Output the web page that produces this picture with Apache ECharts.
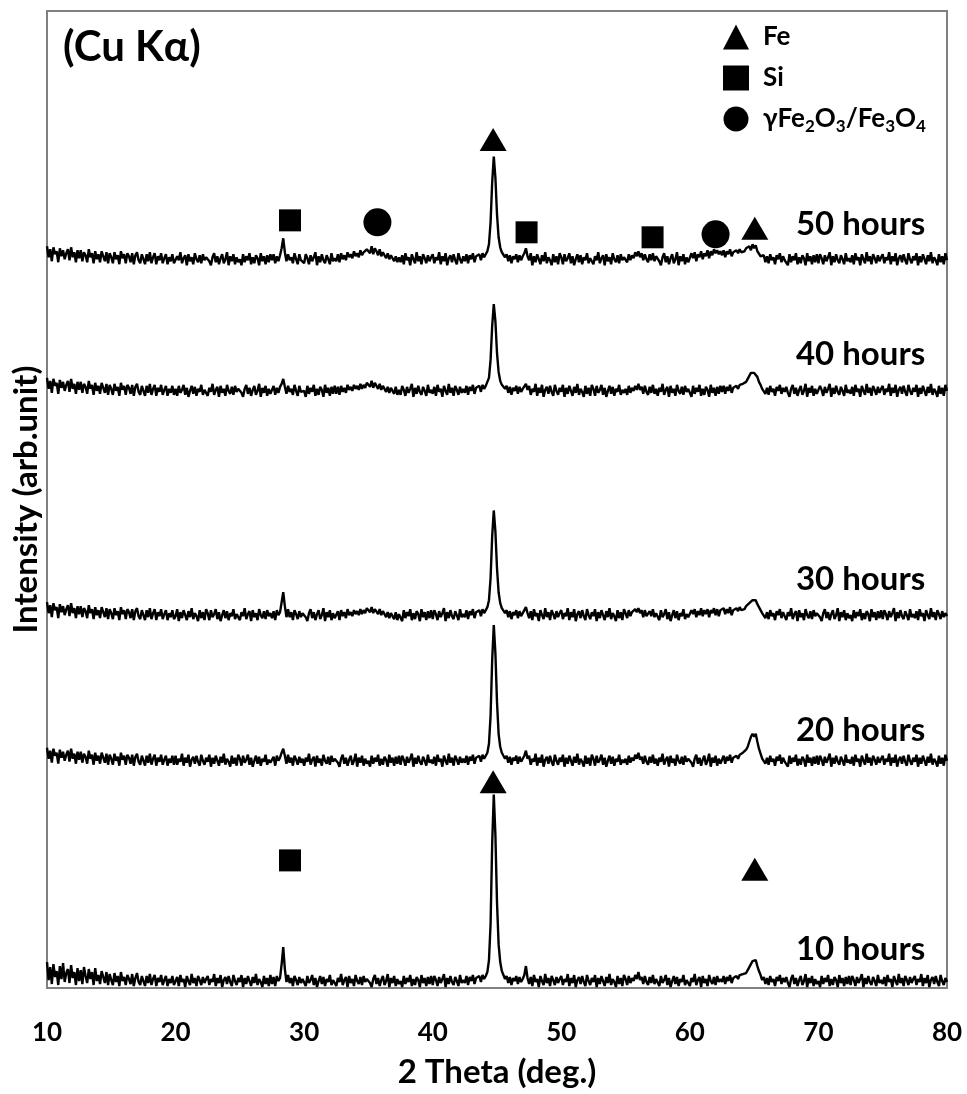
<!DOCTYPE html>
<html>
<head>
<meta charset="utf-8">
<script src="https://cdn.jsdelivr.net/npm/echarts@6/dist/echarts.min.js"></script>
<style>
html, body { margin: 0; padding: 0; background: #fff; }
#chart { width: 967px; height: 1094px; }
</style>
</head>
<body>
<div id="chart"></div>
<script>
// 2 theta grid of the scans
var angleStart = 10;
var angleStep = 0.125;

// milling time of each scan, bottom to top
var hours = ['10 hours', '20 hours', '30 hours', '40 hours', '50 hours'];
// vertical shift of each scan (arb. unit)
var offsets = [0, 221, 367, 592, 724];
// height of the "xx hours" text of each scan
var labelHeights = [39, 258, 410, 636, 766];

// intensity above the offset, one value every 0.125 deg from 10 to 80 (2.5 deg per row)
var xrd10 = [
	26,8,21,4,24,11,17,3,22,9,25,6,15,19,5,23,10,16,3,20,
	7,18,4,21,12,5,19,9,16,3,20,7,13,4,17,11,5,16,3,14,
	8,3,15,6,12,2,16,7,11,3,13,9,4,14,2,10,15,6,3,12,
	7,2,12,5,14,3,9,13,2,10,6,13,3,8,12,2,9,5,12,3,
	4,11,2,13,6,9,1,12,7,3,14,5,10,2,12,8,3,11,5,9,
	12,3,9,6,14,2,10,5,13,1,8,11,4,12,6,2,13,7,3,10,
	6,13,1,10,4,12,7,2,11,5,14,3,9,6,1,12,4,10,2,13,
	4,11,2,12,7,10,24,41,19,6,13,5,10,2,12,8,3,11,5,9,
	9,2,12,5,8,13,3,10,1,7,12,4,11,2,9,6,13,3,8,5,
	2,10,6,14,3,8,11,1,12,5,9,2,13,7,4,11,3,12,6,9,
	11,5,1,9,13,4,10,2,8,12,3,7,14,1,10,5,12,2,9,4,
	7,1,12,4,10,6,13,2,9,3,11,8,1,13,5,10,2,11,4,12,
	3,12,8,2,11,5,9,14,1,10,4,12,6,3,11,7,2,13,5,8,
	5,12,3,11,7,13,4,10,8,12,6,13,9,12,16,28,64,145,194,154,
	86,44,26,17,13,9,12,5,11,3,10,7,12,4,11,6,9,13,22,10,
	4,11,2,13,6,9,1,12,7,3,14,5,10,2,12,8,3,11,5,9,
	12,3,9,6,14,2,10,5,13,1,8,11,4,12,6,2,13,7,3,10,
	6,13,1,10,4,12,7,2,11,5,14,3,9,6,1,12,4,10,2,13,
	9,3,12,5,10,7,13,9,16,8,11,4,12,6,3,11,5,13,4,9,
	9,2,12,5,8,13,3,10,1,7,12,4,11,2,9,6,13,3,8,5,
	2,10,6,14,3,8,11,1,12,5,9,2,13,7,4,11,3,12,6,9,
	6,12,4,11,7,13,5,10,8,12,9,13,11,14,12,15,17,21,24,27,
	25,28,22,17,13,8,11,4,10,3,12,6,9,2,11,7,13,4,10,6,
	11,5,1,9,13,4,10,2,8,12,3,7,14,1,10,5,12,2,9,4,
	7,1,12,4,10,6,13,2,9,3,11,8,1,13,5,10,2,11,4,12,
	3,12,8,2,11,5,9,14,1,10,4,12,6,3,11,7,2,13,5,8,
	4,11,2,13,6,9,1,12,7,3,14,5,10,2,12,8,3,11,5,9,
	12,3,9,6,14,2,10,5,13,1,8,11,4,12,6,2,13,7,3,10,
	6
];
var xrd20 = [
	20,9,17,5,19,12,15,4,18,10,16,7,13,17,6,19,9,14,4,16,
	8,16,5,14,11,4,17,9,13,3,15,7,12,4,15,10,5,14,3,13,
	9,3,14,7,11,2,15,8,12,3,13,10,4,13,2,11,14,6,3,12,
	7,2,12,5,14,3,9,13,2,10,6,13,3,8,12,2,9,5,12,3,
	12,3,9,6,14,2,10,5,13,1,8,11,4,12,6,2,13,7,3,10,
	6,13,1,10,4,12,7,2,11,5,14,3,9,6,1,12,4,10,2,13,
	9,2,12,5,8,13,3,10,1,7,12,4,11,2,9,6,13,3,8,5,
	4,11,2,12,7,10,15,19,12,4,13,5,10,2,12,8,3,11,5,9,
	2,10,6,14,3,8,11,1,12,5,9,2,13,7,4,11,3,12,6,9,
	11,5,1,9,13,4,10,2,8,12,3,7,14,1,10,5,12,2,9,4,
	7,1,12,4,10,6,13,2,9,3,11,8,1,13,5,10,2,11,4,12,
	3,12,8,2,11,5,9,14,1,10,4,12,6,3,11,7,2,13,5,8,
	4,11,2,13,6,9,1,12,7,3,14,5,10,2,12,8,3,11,5,9,
	5,12,3,11,7,13,4,10,8,12,6,13,9,12,15,24,52,108,143,115,
	66,34,21,15,12,9,12,5,11,3,10,7,12,4,11,6,9,12,17,9,
	12,3,9,6,14,2,10,5,13,1,8,11,4,12,6,2,13,7,3,10,
	6,13,1,10,4,12,7,2,11,5,14,3,9,6,1,12,4,10,2,13,
	9,2,12,5,8,13,3,10,1,7,12,4,11,2,9,6,13,3,8,5,
	9,3,12,5,10,7,13,9,15,8,11,4,12,6,3,11,5,13,4,9,
	2,10,6,14,3,8,11,1,12,5,9,2,13,7,4,11,3,12,6,9,
	11,5,1,9,13,4,10,2,8,12,3,7,14,1,10,5,12,2,9,4,
	6,12,4,11,7,13,5,10,8,12,9,13,11,15,14,18,21,26,31,34,
	31,34,26,19,14,9,11,4,10,3,12,6,9,2,11,7,13,4,10,6,
	7,1,12,4,10,6,13,2,9,3,11,8,1,13,5,10,2,11,4,12,
	3,12,8,2,11,5,9,14,1,10,4,12,6,3,11,7,2,13,5,8,
	4,11,2,13,6,9,1,12,7,3,14,5,10,2,12,8,3,11,5,9,
	12,3,9,6,14,2,10,5,13,1,8,11,4,12,6,2,13,7,3,10,
	6,13,1,10,4,12,7,2,11,5,14,3,9,6,1,12,4,10,2,13,
	7
];
var xrd30 = [
	20,9,17,5,19,12,15,4,18,10,16,7,13,17,6,19,9,14,4,16,
	8,16,5,14,11,4,17,9,13,3,15,7,12,4,15,10,5,14,3,13,
	9,3,14,7,11,2,15,8,12,3,13,10,4,13,2,11,14,6,3,12,
	7,2,12,5,14,3,9,13,2,10,6,13,3,8,12,2,9,5,12,3,
	6,13,1,10,4,12,7,2,11,5,14,3,9,6,1,12,4,10,2,13,
	9,2,12,5,8,13,3,10,1,7,12,4,11,2,9,6,13,3,8,5,
	2,10,6,14,3,8,11,1,12,5,9,2,13,7,4,11,3,12,6,9,
	4,11,2,12,7,10,20,30,16,5,13,5,10,2,12,8,3,11,5,9,
	11,5,1,9,13,4,10,2,8,12,3,7,14,1,10,5,12,2,9,4,
	3,11,2,12,6,10,4,13,7,10,6,12,8,11,7,13,8,12,9,14,
	14,10,15,9,13,12,8,13,7,11,12,5,10,4,9,8,3,10,2,8,
	7,1,12,4,10,6,13,2,9,3,11,8,1,13,5,10,2,11,4,12,
	3,12,8,2,11,5,9,14,1,10,4,12,6,3,11,7,2,13,5,8,
	5,12,3,11,7,13,4,10,8,12,6,13,9,12,15,22,44,86,112,91,
	54,30,19,14,12,9,12,5,11,3,10,7,12,4,11,6,9,11,15,9,
	4,11,2,13,6,9,1,12,7,3,14,5,10,2,12,8,3,11,5,9,
	12,3,9,6,14,2,10,5,13,1,8,11,4,12,6,2,13,7,3,10,
	6,13,1,10,4,12,7,2,11,5,14,3,9,6,1,12,4,10,2,13,
	9,4,12,6,10,8,13,10,14,9,12,5,12,6,4,11,6,13,5,9,
	9,2,12,5,8,13,3,10,1,7,12,4,11,2,9,6,13,3,8,5,
	6,12,8,13,5,11,7,14,6,12,8,13,5,12,9,14,7,13,6,12,
	10,14,8,13,9,15,7,12,10,14,11,15,12,14,13,16,17,19,21,22,
	21,22,18,15,12,9,11,4,10,3,12,6,9,2,11,7,13,4,10,6,
	2,10,6,14,3,8,11,1,12,5,9,2,13,7,4,11,3,12,6,9,
	11,5,1,9,13,4,10,2,8,12,3,7,14,1,10,5,12,2,9,4,
	7,1,12,4,10,6,13,2,9,3,11,8,1,13,5,10,2,11,4,12,
	3,12,8,2,11,5,9,14,1,10,4,12,6,3,11,7,2,13,5,8,
	4,11,2,13,6,9,1,12,7,3,14,5,10,2,12,8,3,11,5,9,
	6
];
var xrd40 = [
	20,9,17,5,19,12,15,4,18,10,16,7,13,17,6,19,9,14,4,16,
	8,16,5,14,11,4,17,9,13,3,15,7,12,4,15,10,5,14,3,13,
	9,3,14,7,11,2,15,8,12,3,13,10,4,13,2,11,14,6,3,12,
	7,2,12,5,14,3,9,13,2,10,6,13,3,8,12,2,9,5,12,3,
	9,2,12,5,8,13,3,10,1,7,12,4,11,2,9,6,13,3,8,5,
	2,10,6,14,3,8,11,1,12,5,9,2,13,7,4,11,3,12,6,9,
	11,5,1,9,13,4,10,2,8,12,3,7,14,1,10,5,12,2,9,4,
	6,12,3,10,5,11,14,19,11,4,12,6,9,3,13,7,2,12,6,8,
	7,1,12,4,10,6,13,2,9,3,11,8,1,13,5,10,2,11,4,12,
	4,11,3,12,6,10,5,13,8,11,7,13,9,12,8,14,9,13,10,15,
	16,11,17,10,15,13,9,14,8,12,13,6,11,5,10,9,4,11,3,8,
	3,12,8,2,11,5,9,14,1,10,4,12,6,3,11,7,2,13,5,8,
	4,11,2,13,6,9,1,12,7,3,14,5,10,2,12,8,3,11,5,9,
	5,12,3,11,7,13,4,10,8,12,6,13,9,12,14,20,38,72,94,77,
	45,26,17,13,11,9,12,5,11,3,10,7,12,4,11,6,9,11,14,8,
	12,3,9,6,14,2,10,5,13,1,8,11,4,12,6,2,13,7,3,10,
	6,13,1,10,4,12,7,2,11,5,14,3,9,6,1,12,4,10,2,13,
	9,2,12,5,8,13,3,10,1,7,12,4,11,2,9,6,13,3,8,5,
	9,3,12,5,10,7,12,8,14,8,11,4,12,6,3,11,5,13,4,9,
	2,10,6,14,3,8,11,1,12,5,9,2,13,7,4,11,3,12,6,9,
	7,1,12,4,10,6,13,2,9,3,11,8,1,13,5,10,2,11,4,12,
	6,12,4,11,7,13,5,10,8,12,9,13,11,14,13,16,18,22,25,27,
	25,27,21,16,13,9,11,4,10,3,12,6,9,2,11,7,13,4,10,6,
	11,5,1,9,13,4,10,2,8,12,3,7,14,1,10,5,12,2,9,4,
	3,12,8,2,11,5,9,14,1,10,4,12,6,3,11,7,2,13,5,8,
	4,11,2,13,6,9,1,12,7,3,14,5,10,2,12,8,3,11,5,9,
	12,3,9,6,14,2,10,5,13,1,8,11,4,12,6,2,13,7,3,10,
	6,13,1,10,4,12,7,2,11,5,14,3,9,6,1,12,4,10,2,13,
	7
];
var xrd50 = [
	20,9,17,5,19,12,15,4,18,10,16,7,13,17,6,19,9,14,4,16,
	8,16,5,14,11,4,17,9,13,3,15,7,12,4,15,10,5,14,3,13,
	9,3,14,7,11,2,15,8,12,3,13,10,4,13,2,11,14,6,3,12,
	7,2,12,5,14,3,9,13,2,10,6,13,3,8,12,2,9,5,12,3,
	2,10,6,14,3,8,11,1,12,5,9,2,13,7,4,11,3,12,6,9,
	11,5,1,9,13,4,10,2,8,12,3,7,14,1,10,5,12,2,9,4,
	7,1,12,4,10,6,13,2,9,3,11,8,1,13,5,10,2,11,4,12,
	6,12,3,10,5,11,18,28,14,5,12,6,9,3,13,7,2,12,6,8,
	3,12,8,2,11,5,9,14,1,10,4,12,6,3,11,7,2,13,5,8,
	5,12,4,13,7,11,6,14,9,12,8,15,10,13,9,16,11,14,12,17,
	19,13,20,12,18,15,11,17,10,14,16,8,13,7,11,12,5,10,4,9,
	4,11,2,13,6,9,1,12,7,3,14,5,10,2,12,8,3,11,5,9,
	12,3,9,6,14,2,10,5,13,1,8,11,4,12,6,2,13,7,3,10,
	5,12,3,11,7,13,4,10,8,12,6,13,9,12,15,22,44,84,110,89,
	52,29,19,14,12,9,12,5,11,3,10,7,12,4,11,6,10,13,18,10,
	6,13,1,10,4,12,7,2,11,5,14,3,9,6,1,12,4,10,2,13,
	9,2,12,5,8,13,3,10,1,7,12,4,11,2,9,6,13,3,8,5,
	2,10,6,14,3,8,11,1,12,5,9,2,13,7,4,11,3,12,6,9,
	9,4,12,6,11,8,14,10,15,9,13,6,12,7,4,12,6,13,5,10,
	11,5,1,9,13,4,10,2,8,12,3,7,14,1,10,5,12,2,9,4,
	6,13,8,14,5,12,9,15,7,13,10,16,8,15,11,17,13,16,12,15,
	11,16,9,15,12,17,10,14,12,16,13,17,14,16,15,18,17,20,16,22,
	18,21,15,13,10,8,11,4,10,3,12,6,9,2,11,7,13,4,10,6,
	7,1,12,4,10,6,13,2,9,3,11,8,1,13,5,10,2,11,4,12,
	3,12,8,2,11,5,9,14,1,10,4,12,6,3,11,7,2,13,5,8,
	4,11,2,13,6,9,1,12,7,3,14,5,10,2,12,8,3,11,5,9,
	12,3,9,6,14,2,10,5,13,1,8,11,4,12,6,2,13,7,3,10,
	6,13,1,10,4,12,7,2,11,5,14,3,9,6,1,12,4,10,2,13,
	6
];
var scans = [xrd10, xrd20, xrd30, xrd40, xrd50];

// phase markers [2theta, height]
var feMarks = [[44.7, 207], [65.05, 119], [44.7, 851], [65.05, 762]];
var siMarks = [[28.9, 128], [28.9, 770], [47.3, 758], [57.1, 753]];
var oxMarks = [[35.7, 768], [62.0, 756]];

var font = 'Lato';
var axisGray = '#808080';

var myChart = echarts.init(document.getElementById('chart'));

var series = [];
for (var k = 0; k < scans.length; k++) {
	var pts = [];
	for (var i = 0; i < scans[k].length; i++) {
		pts.push([angleStart + i * angleStep, offsets[k] + scans[k][i]]);
	}
	series.push({
		name : hours[k],
		type : 'line',
		data : pts,
		showSymbol : false,
		symbol : 'none',
		lineStyle : { color : '#000', width : 2.4 },
		z : 2
	});
}
// labels of the scans
var labelData = [];
for (var k = 0; k < hours.length; k++) {
	labelData.push({ value : [78.3, labelHeights[k]], name : hours[k] });
}
series.push({
	type : 'scatter',
	data : labelData,
	symbolSize : 0,
	silent : true,
	itemStyle : { opacity : 1 },
	label : {
		show : true,
		position : 'left',
		distance : 0,
		formatter : '{b}',
		color : '#000',
		opacity : 1,
		fontFamily : font,
		fontWeight : 'bold',
		fontSize : 33
	}
});
series.push({
	name : 'Fe', type : 'scatter', data : feMarks,
	symbol : 'triangle', symbolSize : [27, 23],
	itemStyle : { color : '#000', opacity : 1 }, z : 3
});
series.push({
	name : 'Si', type : 'scatter', data : siMarks,
	symbol : 'rect', symbolSize : 22,
	itemStyle : { color : '#000', opacity : 1 }, z : 3
});
series.push({
	name : 'γFe2O3/Fe3O4', type : 'scatter', data : oxMarks,
	symbol : 'circle', symbolSize : 28,
	itemStyle : { color : '#000', opacity : 1 }, z : 3
});

option = {
	animation : false,
	backgroundColor : '#fff',
	title : {
		text : '(Cu K\u03b1)',
		left : 63,
		top : 26,
		padding : 0,
		textStyle : { fontFamily : font, fontWeight : 'bold', fontSize : 42, color : '#000' }
	},
	legend : {
		data : [
			{ name : 'Fe', icon : 'triangle' },
			{ name : 'Si', icon : 'rect' },
			{ name : 'γFe2O3/Fe3O4', icon : 'circle' }
		],
		orient : 'vertical',
		left : 718,
		top : 19,
		itemWidth : 26,
		itemHeight : 25,
		itemGap : 15,
		selectedMode : false,
		formatter : function(name) {
			if (name == 'γFe2O3/Fe3O4') {
				return '{n|γFe}{s|2}{n|O}{s|3}{n|/Fe}{s|3}{n|O}{s|4}';
			}
			return '{n|' + name + '}';
		},
		textStyle : {
			color : '#000',
			padding : [0, 0, 0, 9],
			rich : {
				n : { fontFamily : font, fontWeight : 'bold', fontSize : 26, color : '#000', lineHeight : 32 },
				s : { fontFamily : font, fontWeight : 'bold', fontSize : 17, color : '#000', lineHeight : 17, verticalAlign : 'bottom' }
			}
		}
	},
	grid : {
		left : 47,
		right : 20,
		top : 11,
		bottom : 103,
		show : true,
		borderColor : axisGray,
		borderWidth : 2,
		backgroundColor : 'transparent'
	},
	xAxis : {
		type : 'value',
		min : 10,
		max : 80,
		interval : 10,
		name : '2 Theta (deg.)',
		nameLocation : 'middle',
		nameGap : 68,
		nameTextStyle : { fontFamily : font, fontWeight : 'bold', fontSize : 33, color : '#000' },
		axisLine : { show : true, lineStyle : { color : axisGray, width : 2 } },
		axisTick : { show : false },
		splitLine : { show : false },
		axisLabel : { margin : 32, fontFamily : font, fontWeight : 'bold', fontSize : 26, color : '#000' }
	},
	yAxis : {
		type : 'value',
		min : 0,
		max : 980,
		name : 'Intensity (arb.unit)',
		nameLocation : 'middle',
		nameGap : 4,
		nameTextStyle : { fontFamily : font, fontWeight : 'bold', fontSize : 33, color : '#000' },
		axisLine : { show : true, lineStyle : { color : axisGray, width : 2 } },
		axisTick : { show : false },
		splitLine : { show : false },
		axisLabel : { show : false }
	},
	series : series
};
myChart.setOption(option);
</script>
</body>
</html>
